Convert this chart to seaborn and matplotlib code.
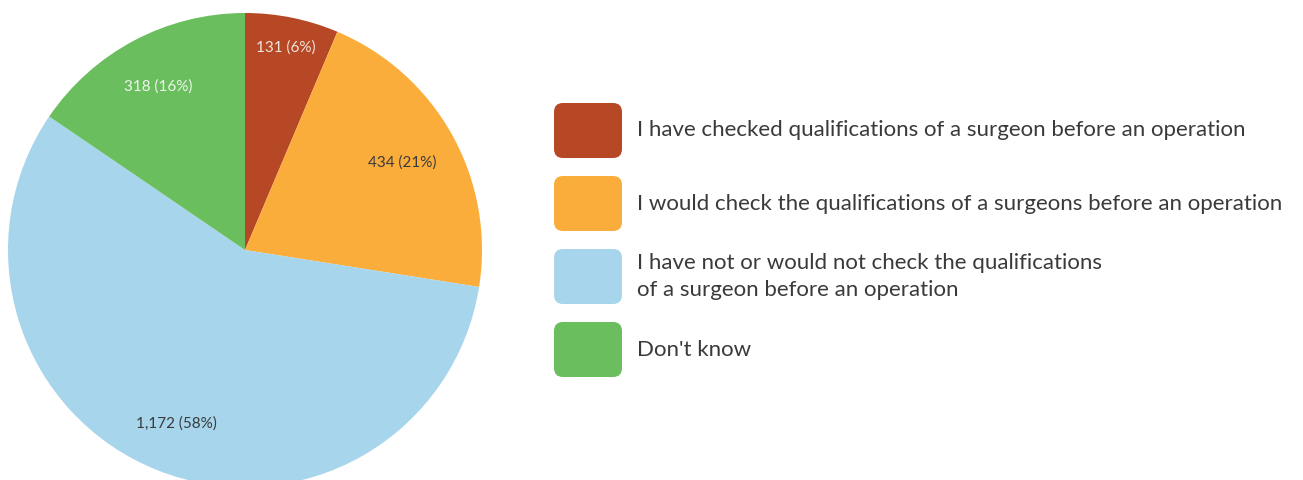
import numpy as np
import matplotlib
matplotlib.use("Agg")
import matplotlib.pyplot as plt
from matplotlib.patches import FancyBboxPatch
import seaborn as sns

categories = [
    "I have checked qualifications of a surgeon before an operation",
    "I would check the qualifications of a surgeons before an operation",
    "I have not or would not check the qualifications\nof a surgeon before an operation",
    "Don't know",
]
values = [131, 434, 1172, 318]
value_labels = ["131 (6%)", "434 (21%)", "1,172 (58%)", "318 (16%)"]
colors = ["#B74825", "#FBAD3B", "#A6D5EC", "#6ABE5E"]
label_colors = ["#F3E3DC", "#3A3A3A", "#3A3A3A", "#EEF6EC"]
label_radius = [0.87, 0.76, 0.79, 0.78]

sns.set_theme(style="white")
plt.rcParams["font.family"] = ["Lato", "DejaVu Sans"]

W, H = 1303, 480
fig = plt.figure(figsize=(W / 100, H / 100), dpi=100)

# Pie axes (center ~ (245,250) px, radius ~237 px)
cx, cy, r = 245, 250, 237
ax = fig.add_axes([(cx - r) / W, (H - cy - r) / H, 2 * r / W, 2 * r / H])
wedges, _ = ax.pie(values, colors=sns.color_palette(colors), startangle=90,
                   counterclock=False, radius=1.0,
                   wedgeprops=dict(linewidth=0))
ax.set_xlim(-1, 1)
ax.set_ylim(-1, 1)
ax.set_aspect("equal")
ax.axis("off")
for w, lab, lc, rr in zip(wedges, value_labels, label_colors, label_radius):
    ang = np.deg2rad((w.theta1 + w.theta2) / 2)
    ax.text(rr * np.cos(ang), rr * np.sin(ang), lab, ha="center", va="center",
            fontsize=11, color=lc)

# Legend axes in pixel coordinates
lax = fig.add_axes([0, 0, 1, 1])
lax.set_xlim(0, W)
lax.set_ylim(H, 0)
lax.axis("off")
x0, y0, bw, bh, step = 554, 103, 68, 55, 73
for i, (cat, col) in enumerate(zip(categories, colors)):
    top = y0 + i * step
    box = FancyBboxPatch((x0, top), bw, bh,
                         boxstyle="round,pad=0,rounding_size=9",
                         facecolor=col, edgecolor="none")
    lax.add_patch(box)
    lax.text(x0 + bw + 15, top + bh / 2, cat, ha="left", va="center",
             fontsize=16, color="#3A3A3A", linespacing=1.4)

fig.savefig("out.png", dpi=100, facecolor="white")
